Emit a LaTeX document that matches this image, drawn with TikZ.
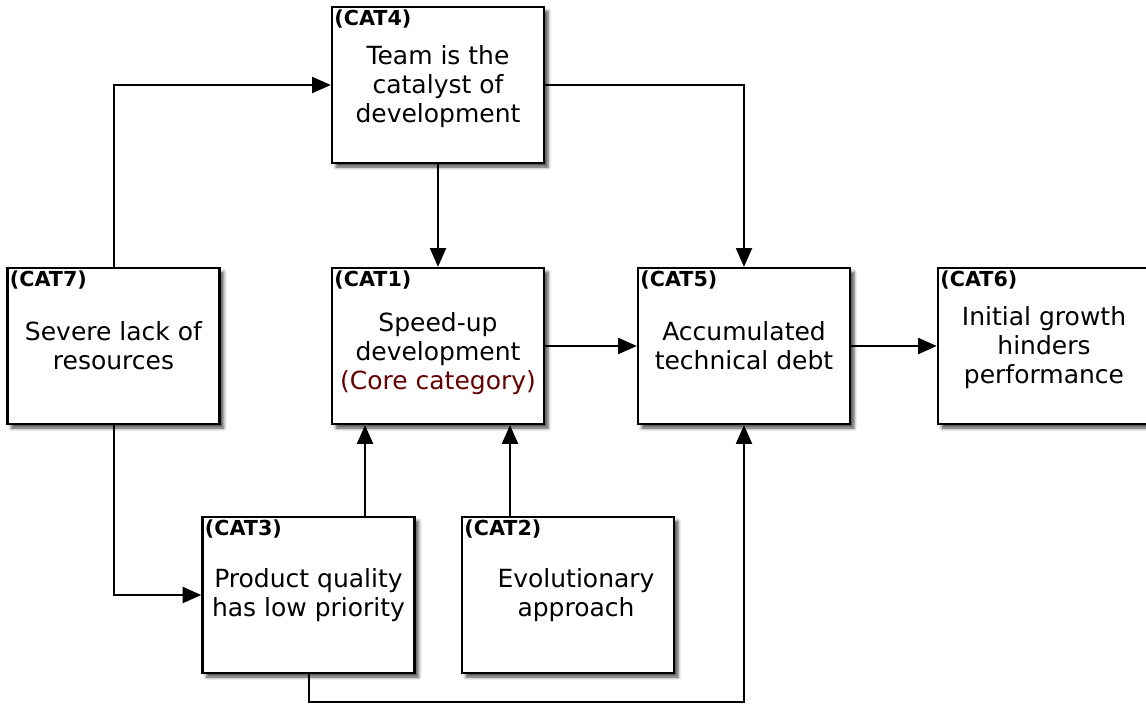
\documentclass[tikz,border=0pt]{standalone}
\usepackage{fontspec}
\setmainfont{DejaVu Sans}
\usetikzlibrary{arrows.meta,shadows.blur}
\definecolor{corered}{RGB}{100,0,0}

\begin{document}
\begin{tikzpicture}[x=0.75pt, y=-0.75pt,
        box/.style={draw, line width=1.8pt, fill=white, minimum width=159pt, minimum height=117pt,
            align=center, font=\fontsize{18.75}{21.75}\selectfont,
            blur shadow={shadow xshift=3pt, shadow yshift=-3pt, shadow blur radius=2.5pt, shadow opacity=70}},
        tag/.style={anchor=north west, inner sep=2.5pt, font=\fontsize{15.5}{18}\selectfont\bfseries},
        arr/.style={line width=1.5pt, -{Triangle[length=14pt, width=12pt]}}]
        \useasboundingbox (0,0) rectangle (1146,704);
        \node[box] (c4) at (438,85) {\rule{0pt}{17pt}Team is the\\catalyst of\\development};
        \node[box] (c7) at (113.5,346) {Severe lack of\\resources};
        \node[box] (c1) at (438,346) {\rule{0pt}{26pt}Speed-up\\development\\{\color{corered}(Core category)}};
        \node[box] (c5) at (744,346) {Accumulated\\technical debt};
        \node[box] (c6) at (1044,346) {\rule{0pt}{17pt}Initial growth\\hinders\\performance};
        \node[box] (c3) at (308.5,595) {Product quality\\has low priority};
        \node[box] (c2) at (568,595) {\hspace{12pt}Evolutionary\\\hspace{12pt}approach};
        \node[tag] (t4) at (c4.north west) {(CAT4)};
        \node[tag] (t7) at (c7.north west) {(CAT7)};
        \node[tag] (t1) at (c1.north west) {(CAT1)};
        \node[tag] (t5) at (c5.north west) {(CAT5)};
        \node[tag] (t6) at (c6.north west) {(CAT6)};
        \node[tag] (t3) at (c3.north west) {(CAT3)};
        \node[tag] (t2) at (c2.north west) {(CAT2)};
        \coordinate (low) at (308.5,702);
        \draw[arr] (c7.north) |- (c4.west);
        \draw[arr] (c4) -- (c1);
        \draw[arr] (c4.east) -| (c5.north);
        \draw[arr] (c1) -- (c5);
        \draw[arr] (c5) -- (c6);
        \draw[arr] (c7.south) |- (c3.west);
        \draw[arr] ([xshift=42.4pt]c3.north) -- ([xshift=42.4pt]c3.north |- c1.south);
        \draw[arr] ([xshift=-43.5pt]c2.north) -- ([xshift=-43.5pt]c2.north |- c1.south);
        \draw[arr] (c3.south) -- (low) -| (c5.south);
    \end{tikzpicture}
\end{document}
